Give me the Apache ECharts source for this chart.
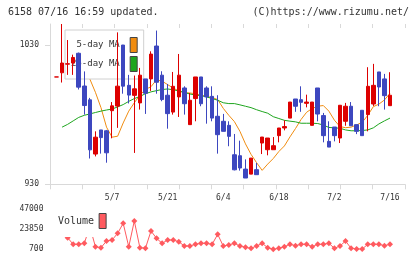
<!DOCTYPE html>
<html>
<head>
<meta charset="utf-8">
<script src="https://cdn.jsdelivr.net/npm/echarts@6/dist/echarts.min.js"></script>
<style>
  html, body { margin: 0; padding: 0; background: #fff; }
  #chart { width: 420px; height: 259px; }
</style>
</head>
<body>
<div id="chart"></div>
<script>
// trading days, 2025
const dates = [
  '4/18','4/21','4/22','4/23','4/24','4/25','4/28','4/30','5/1','5/2',
  '5/7','5/8','5/9','5/12','5/13','5/14','5/15','5/16','5/19','5/20',
  '5/21','5/22','5/23','5/26','5/27','5/28','5/29','5/30','6/2','6/3',
  '6/4','6/5','6/6','6/9','6/10','6/11','6/12','6/13','6/16','6/17',
  '6/18','6/19','6/20','6/23','6/24','6/25','6/26','6/27','6/30','7/1',
  '7/2','7/3','7/4','7/7','7/8','7/9','7/10','7/11','7/14','7/15','7/16'
];
const opens = [
  1007, 1010, 1016.2, 1017, 1024, 1000.5, 990.6, 951.7, 969, 968.4,
  982.8, 986.1, 1029.9, 1001, 993.8, 988.4, 1005.6, 1005.6, 1029.2, 1008.3,
  993.9, 981.8, 992.7, 999.1, 972.8, 991.5, 1007, 999.1, 993.1, 978.8,
  975.2, 972.3, 951.2, 950.5, 940.9, 937.3, 940.5, 959.6, 954.8, 954.8,
  964.9, 970.4, 977.5, 991.2, 990.7, 988.1, 972.3, 999.1, 979.3, 960.8,
  971.1, 963.2, 975.2, 986, 972.8, 983.1, 980, 987.6, 1010.6, 1005.6, 986.4
];
const closes = [
  1007, 1017, 1016.5, 1021, 999.7, 986.5, 954.7, 963.8, 963.5, 952.6,
  986.3, 1000.4, 1000.4, 994, 998.5, 1008.3, 995.3, 1023.4, 1003.2, 990.8,
  980.7, 1000.3, 1008.3, 987.8, 990.3, 1007, 987.8, 992.7, 977.5, 965.6,
  968, 964.4, 940.4, 941.7, 934.5, 948.8, 936.9, 963.9, 963.2, 957.7,
  970.4, 971.4, 989, 986, 988.8, 989, 989, 980.4, 964.9, 956.7,
  964.9, 986.7, 986, 972, 968, 964.9, 1000.3, 1001, 999.8, 993.6, 993.9
];
const lows = [
  1007, 1003, 1008.5, 1008.5, 998, 980, 948.5, 950, 952, 945.5,
  963, 970.5, 995, 988, 952.5, 983.6, 980.5, 997, 995, 989.6,
  969.9, 980, 978.3, 980, 972.8, 975.2, 986, 973.5, 975.2, 952,
  968, 957.3, 940, 939.8, 934.5, 937.3, 936.9, 951.7, 950.8, 954.8,
  960.1, 968.7, 977.5, 982, 982, 985.2, 972.3, 975.2, 960.1, 956.7,
  960.8, 959.6, 972, 972, 966, 964.9, 968, 986.2, 986, 983.6, 986.4
];
const highs = [
  1007, 1045, 1033.5, 1023, 1024.5, 1011, 992, 968, 969, 969,
  989, 1039, 1030, 1008.5, 1008, 1013.5, 1005.6, 1025.4, 1040.3, 1011.1,
  1002, 1010.6, 1023.5, 1000.3, 995.5, 1007, 1007, 1000.3, 1000.3, 993.9,
  980.5, 975.2, 966.1, 961.3, 947.9, 948.8, 945.3, 963.9, 963.2, 963.9,
  970.4, 975.9, 989, 991.2, 1000.3, 994.3, 989, 999.1, 981.2, 975.2,
  971.1, 986.7, 988.4, 989, 972.8, 983.1, 1014, 1016.4, 1010.6, 1009.2, 1010.4
];
const ma5 = [
  null, null, null, null, 1013, 1010, 1005.5, 996, 985, 971,
  963.8, 964.5, 974, 982.5, 988.5, 994, 998, 1000, 1005, 1004,
  1001.5, 999, 997, 995.8, 995.5, 995, 994, 993, 992.3, 990.8,
  984.5, 979.5, 975, 968, 959, 951.5, 945.5, 940, 944.5, 948.5,
  953.5, 957.5, 964, 970, 976.5, 981.7, 984.4, 986, 986.5, 982.5,
  976, 971.4, 970.6, 971, 972.6, 974.5, 979.5, 985.7, 987.5, 990.5, 995.3
];
const ma25 = [
  null, 971, 973, 975.5, 978, 979.5, 980.5, 981.5, 982.5, 983.3,
  984, 985.5, 987.2, 989.5, 991.5, 993, 995, 996.3, 997.2, 998,
  998.4, 997.8, 997, 995.8, 994.8, 994, 993.6, 992.7, 991.5, 990.3,
  988.5, 987.9, 987.9, 987, 986, 985, 983.5, 982.2, 981, 978.5,
  977.2, 975.9, 975.3, 974.8, 973.8, 973.8, 973.8, 973.6, 972.5, 970.8,
  970.5, 970.2, 969, 968.4, 968.4, 968.6, 969, 970.5, 973.3, 975.5, 977.5
];
const volumes = [
  22000, 47000, 14100, 6500, 6500, 7650, 27000, 3700, 2550, 10300,
  11460, 19200, 30800, 3700, 33500, 2550, 1860, 21900, 13400, 7650,
  11460, 11460, 9500, 4500, 4500, 6500, 7650, 7650, 6500, 18000,
  4500, 5700, 7650, 4500, 3000, 1860, 4500, 7650, 2550, 700,
  1860, 3700, 6500, 4900, 6500, 6500, 3700, 6500, 6500, 7650,
  1860, 4500, 10300, 1860, 1000, 1000, 6500, 6500, 6500, 4900, 6500
];
const priceTicks = [930, 1030];
const volumeTicks = [700, 23850, 47000];

const candles = opens.map((o, i) => [o, closes[i], lows[i], highs[i]]);

const font = 'DejaVu Sans Mono';
const gray = '#d9d9d9';
const textColor = '#333';
const upColor = '#dd0000';
const downColor = '#3d47bf';
const ma5Color = '#f08c10';
const ma25Color = '#1ea51e';
const volColor = '#ff5a5f';
const plain = v => String(v);

const chart = echarts.init(document.getElementById('chart'));
chart.setOption({
  animation: false,
  title: [
    { text: '6158 07/16 16:59 updated.', left: 8, top: 7, padding: 0,
      textStyle: { fontFamily: font, fontSize: 10, fontWeight: 'normal', color: textColor } },
    { text: '(C)https://www.rizumu.net/', right: 11, top: 7, padding: 0,
      textStyle: { fontFamily: font, fontSize: 10, fontWeight: 'normal', color: textColor } }
  ],
  legend: [
    {
      data: ['5-day MA', '25-day MA'],
      orient: 'vertical', align: 'right', left: 65, top: 30,
      padding: [7, 6, 7, 6], itemGap: 3, itemWidth: 7, itemHeight: 15,
      icon: 'rect', backgroundColor: '#fff', borderColor: '#d0d0d0', borderWidth: 1,
      itemStyle: { borderColor: '#444', borderWidth: 1 },
      textStyle: { fontFamily: font, fontSize: 9, color: textColor },
      formatter: n => n + ' ',
      selectedMode: false, z: 3
    },
    {
      data: ['Volume'],
      orient: 'vertical', align: 'right', left: 51, top: 206,
      padding: [7, 7, 8, 7], itemWidth: 7, itemHeight: 15,
      icon: 'rect', backgroundColor: '#fff', borderWidth: 0,
      itemStyle: { borderColor: '#444', borderWidth: 1 },
      textStyle: { fontFamily: font, fontSize: 10, color: textColor },
      selectedMode: false, z: 4
    }
  ],
  grid: [
    { left: 56.5, right: 30, top: 24, height: 160.3 },
    { left: 50, right: 15, top: 24, height: 160.3 },
    { left: 56.5, right: 30, top: 209.3, height: 40 }
  ],
  xAxis: [
    { type: 'category', gridIndex: 0, data: dates, boundaryGap: false,
      axisLine: { show: false }, axisTick: { show: false }, splitLine: { show: false },
      axisLabel: { interval: i => i > 0 && i % 10 === 0, margin: 10,
        fontFamily: font, fontSize: 8, color: textColor } },
    { type: 'value', gridIndex: 1, min: 0, max: 11, interval: 1,
      axisLine: { lineStyle: { color: gray } },
      axisTick: { length: 5, lineStyle: { color: gray } },
      axisLabel: { show: false }, splitLine: { show: false } },
    { type: 'value', gridIndex: 1, min: 0, max: 11, interval: 1,
      axisLine: { show: false },
      axisTick: { inside: true, length: 4, lineStyle: { color: gray } },
      axisLabel: { show: false }, splitLine: { show: false } },
    { type: 'category', gridIndex: 2, data: dates, boundaryGap: false, show: false }
  ],
  yAxis: [
    { type: 'value', gridIndex: 0, min: 930, max: 1045, show: false, splitLine: { show: false } },
    { type: 'value', gridIndex: 1, min: 930, max: 1045,
      axisLine: { show: true, lineStyle: { color: gray } },
      axisTick: { show: true, length: 5, customValues: priceTicks, lineStyle: { color: gray } },
      axisLabel: { customValues: priceTicks, formatter: plain, margin: 11,
        fontFamily: font, fontSize: 8, color: textColor },
      splitLine: { show: false } },
    { type: 'value', gridIndex: 1, min: 930, max: 1045,
      axisLine: { show: false },
      axisTick: { show: true, inside: true, length: 3, customValues: priceTicks, lineStyle: { color: gray } },
      axisLabel: { show: false }, splitLine: { show: false } },
    { type: 'value', gridIndex: 2, min: 700, max: 47000,
      axisLine: { show: false }, axisTick: { show: false }, splitLine: { show: false },
      axisLabel: { customValues: volumeTicks, formatter: plain, margin: 13,
        fontFamily: font, fontSize: 8, color: textColor } }
  ],
  series: [
    { name: 'price', type: 'candlestick', xAxisIndex: 0, yAxisIndex: 0, data: candles,
      barWidth: 4, z: 5,
      itemStyle: { color: upColor, color0: downColor, borderColor: upColor, borderColor0: downColor, borderWidth: 1 } },
    { name: '5-day MA', type: 'line', xAxisIndex: 0, yAxisIndex: 0, data: ma5,
      symbol: 'none', z: 2, color: ma5Color,
      lineStyle: { width: 1, color: ma5Color }, itemStyle: { color: ma5Color } },
    { name: '25-day MA', type: 'line', xAxisIndex: 0, yAxisIndex: 0, data: ma25,
      symbol: 'none', z: 2, color: ma25Color,
      lineStyle: { width: 1, color: ma25Color }, itemStyle: { color: ma25Color } },
    { name: 'Volume', type: 'line', xAxisIndex: 3, yAxisIndex: 3, data: volumes,
      symbol: 'diamond', symbolSize: 6, showAllSymbol: true, z: 2, color: volColor,
      lineStyle: { width: 1, color: volColor }, itemStyle: { color: volColor } }
  ]
});
</script>
</body>
</html>
